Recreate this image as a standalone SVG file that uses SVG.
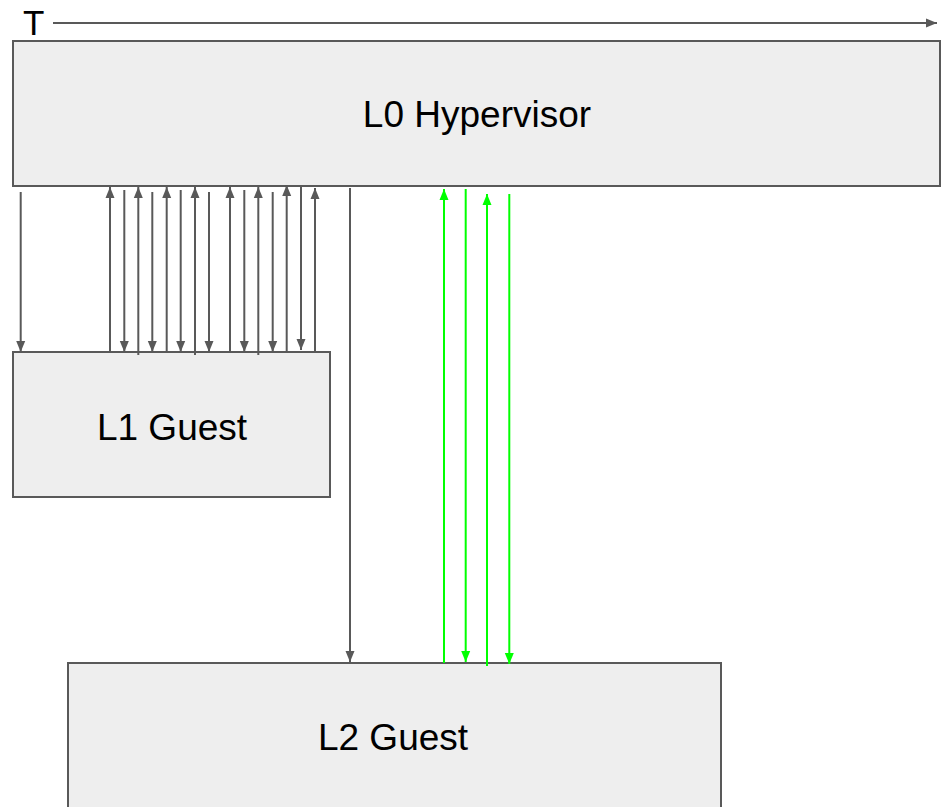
<svg xmlns="http://www.w3.org/2000/svg" width="943" height="807" viewBox="0 0 943 807">
<defs>
<marker id="ag" markerUnits="userSpaceOnUse" markerWidth="11" markerHeight="11" viewBox="0 0 11 11" refX="11" refY="5.5" orient="auto"><path d="M0,1 L11,5.5 L0,10 Z" fill="#595959"/></marker>
<marker id="agr" markerUnits="userSpaceOnUse" markerWidth="11" markerHeight="11" viewBox="0 0 11 11" refX="11" refY="5.5" orient="auto"><path d="M0,1 L11,5.5 L0,10 Z" fill="#00ff00"/></marker>
<style>
.box{fill:#eeeeee;stroke:#595959;stroke-width:2}
.lbl{font-family:"Liberation Sans",Arial,sans-serif;font-size:37px;fill:#000;text-anchor:middle}
.g{stroke:#595959;stroke-width:2;fill:none;marker-end:url(#ag)}
.gr{stroke:#00ff00;stroke-width:2;fill:none;marker-end:url(#agr)}
</style>
</defs>
<g id="time">
<text x="23" y="35" style="font-family:'Liberation Sans',Arial,sans-serif;font-size:35px;fill:#000">T</text>
</g>
<g id="L0"><rect class="box" x="13" y="41" width="927" height="145"/><text class="lbl" x="477" y="127">L0 Hypervisor</text></g>
<g id="L1"><rect class="box" x="13" y="352" width="317" height="145"/><text class="lbl" x="172" y="440">L1 Guest</text></g>
<g id="L2"><rect class="box" x="68" y="663" width="653" height="160"/><text class="lbl" x="393" y="750">L2 Guest</text></g>
<g id="connectors">
<line class="g" x1="53" y1="23" x2="937" y2="23"/>
<line class="g" x1="20.7" y1="192" x2="20.7" y2="352"/>
<line class="g" x1="110" y1="352" x2="110" y2="187"/>
<line class="g" x1="124.3" y1="190" x2="124.3" y2="352"/>
<line class="g" x1="138.3" y1="355" x2="138.3" y2="187"/>
<line class="g" x1="152.3" y1="192" x2="152.3" y2="352"/>
<line class="g" x1="166.7" y1="352" x2="166.7" y2="187"/>
<line class="g" x1="180.7" y1="190" x2="180.7" y2="352"/>
<line class="g" x1="195" y1="355" x2="195" y2="187"/>
<line class="g" x1="209" y1="192" x2="209" y2="352"/>
<line class="g" x1="230" y1="352" x2="230" y2="187"/>
<line class="g" x1="244.3" y1="190" x2="244.3" y2="352"/>
<line class="g" x1="258.3" y1="355" x2="258.3" y2="187"/>
<line class="g" x1="272.7" y1="192" x2="272.7" y2="352"/>
<line class="g" x1="286.7" y1="352" x2="286.7" y2="185"/>
<line class="g" x1="301" y1="187" x2="301" y2="350"/>
<line class="g" x1="315" y1="352" x2="315" y2="188"/>
<line class="g" x1="350" y1="188" x2="350" y2="662"/>
<line class="gr" x1="444" y1="663" x2="444" y2="189"/>
<line class="gr" x1="465.7" y1="189" x2="465.7" y2="662"/>
<line class="gr" x1="487" y1="666" x2="487" y2="194"/>
<line class="gr" x1="509.3" y1="194" x2="509.3" y2="664"/>
</g>
</svg>
